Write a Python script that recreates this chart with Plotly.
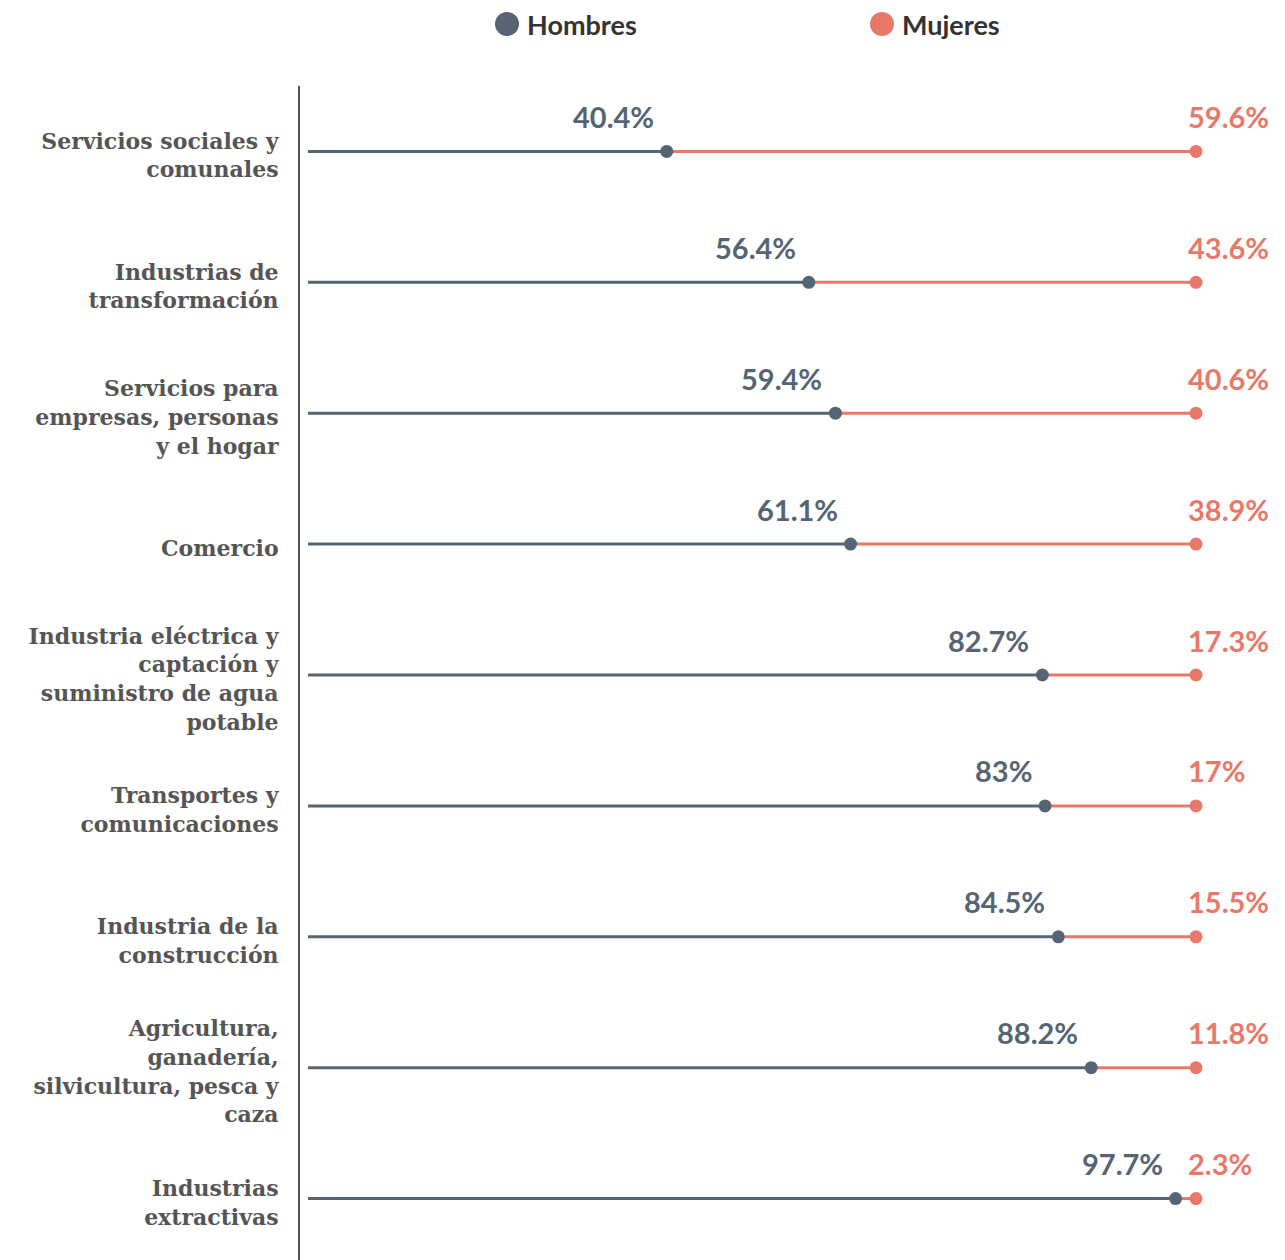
import plotly.graph_objects as go

categories = [
    "Servicios sociales y comunales",
    "Industrias de transformación",
    "Servicios para empresas, personas y el hogar",
    "Comercio",
    "Industria eléctrica y captación y suministro de agua potable",
    "Transportes y comunicaciones",
    "Industria de la construcción",
    "Agricultura, ganadería, silvicultura, pesca y caza",
    "Industrias extractivas",
]
tick_labels = [
    "Servicios sociales y<br>comunales",
    "Industrias de<br>transformación",
    "Servicios para<br>empresas, personas<br>y el hogar",
    "Comercio",
    "Industria eléctrica y<br>captación y<br>suministro de agua<br>potable",
    "Transportes y<br>comunicaciones",
    "Industria de la<br>construcción",
    "Agricultura,<br>ganadería,<br>silvicultura, pesca y<br>caza",
    "Industrias<br>extractivas",
]
hombres = [40.4, 56.4, 59.4, 61.1, 82.7, 83, 84.5, 88.2, 97.7]
mujeres = [59.6, 43.6, 40.6, 38.9, 17.3, 17, 15.5, 11.8, 2.3]

C_H = "#566573"
C_M = "#e8796a"
C_TXT = "#555555"

total = [h + m for h, m in zip(hombres, mujeres)]

# line segments
hx, hy, mx, my = [], [], [], []
for c, h, t in zip(categories, hombres, total):
    hx += [0, h, None]
    hy += [c, c, None]
    mx += [h, t, None]
    my += [c, c, None]

fig = go.Figure()
fig.add_trace(go.Scatter(x=hx, y=hy, mode="lines", line=dict(color=C_H, width=3),
                         showlegend=False, hoverinfo="skip"))
fig.add_trace(go.Scatter(x=mx, y=my, mode="lines", line=dict(color=C_M, width=3),
                         showlegend=False, hoverinfo="skip"))
fig.add_trace(go.Scatter(x=total, y=categories, mode="markers", name="Mujeres",
                         marker=dict(color=C_M, size=13), showlegend=False, cliponaxis=False))
fig.add_trace(go.Scatter(x=hombres, y=categories, mode="markers", name="Hombres",
                         marker=dict(color=C_H, size=13), showlegend=False, cliponaxis=False))

val_font = dict(family="Lato", size=29, weight="bold")
for c, h, m, t in zip(categories, hombres, mujeres, total):
    fig.add_annotation(x=h, y=c, text=f"{h:g}%", showarrow=False, xanchor="right",
                       yanchor="middle", xshift=-11, yshift=35,
                       font=dict(color=C_H, **val_font))
    fig.add_annotation(x=t, y=c, text=f"{m:g}%", showarrow=False, xanchor="left",
                       yanchor="middle", xshift=-10, yshift=35,
                       font=dict(color=C_M, **val_font))

L, T, PW = 292, 78, 985
W, H = L + PW, 1256

# legend (custom, larger dots)
leg_font = dict(family="Lato", size=27, weight="bold", color="#333333")
LEG_Y = T - 16
for name, col, px in [("Hombres", C_H, 499), ("Mujeres", C_M, 874)]:
    fig.add_shape(type="circle", xref="paper", yref="paper", xsizemode="pixel",
                  ysizemode="pixel", xanchor=(px - L) / PW, yanchor=1,
                  x0=-12, x1=12, y0=LEG_Y - 12, y1=LEG_Y + 12,
                  fillcolor=col, line=dict(width=0))
    fig.add_annotation(xref="paper", yref="paper", x=(px + 19 - L) / PW, y=1,
                       yshift=LEG_Y, text=name, showarrow=False, xanchor="left",
                       yanchor="middle", borderpad=0, font=leg_font)

xmin = -0.9
xmax = xmin + PW / 8.88
fig.update_layout(
    width=W, height=H,
    margin=dict(l=L, r=0, t=T, b=0),
    paper_bgcolor="white", plot_bgcolor="white",
    xaxis=dict(range=[xmin, xmax], showgrid=False, zeroline=False, showticklabels=False,
               showline=False, fixedrange=True),
    yaxis=dict(categoryorder="array", categoryarray=categories, tickvals=categories,
               ticktext=tick_labels, range=[8.5, -0.5], showgrid=False, zeroline=False,
               showline=True, linecolor="#555555", linewidth=2, ticks="",
               ticklabelstandoff=15, ticklabelshift=-4,
               tickfont=dict(family="DejaVu Serif", size=22, weight="bold", color=C_TXT)),
    showlegend=False,
)

fig.write_html("out.html")
